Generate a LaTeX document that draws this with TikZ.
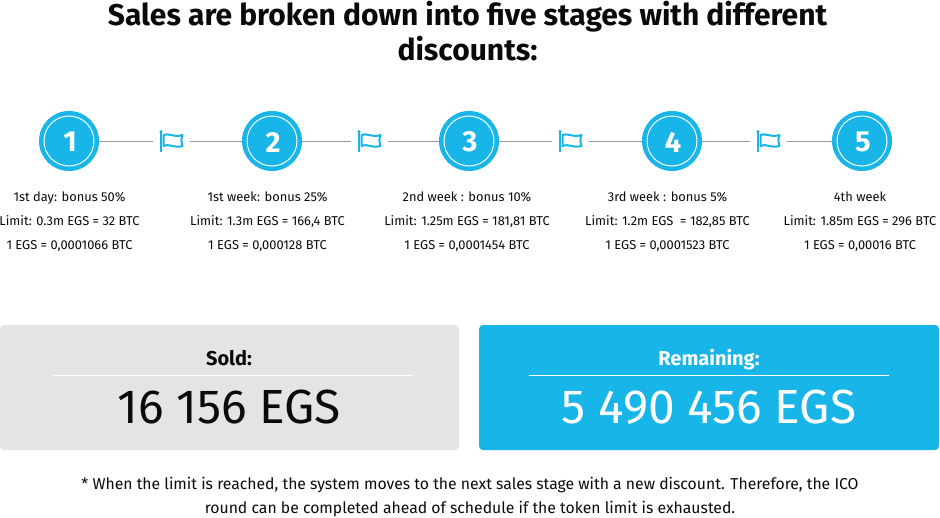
\documentclass[tikz,border=0pt]{standalone}
\usepackage{fontspec}
\setmainfont{Fira Sans}
\definecolor{brand}{HTML}{17B5E8}
\definecolor{panel}{HTML}{E4E4E4}
\definecolor{wire}{HTML}{999999}
\definecolor{ink}{HTML}{0A0A0A}
\newcommand{\fs}[1]{\fontsize{#1}{#1}\selectfont}
\tikzset{
 x=1pt,y=-1pt,
 stagecircle/.style={circle,fill=brand,minimum size=60pt,inner sep=0pt},
 ringline/.style={draw=white,line width=1pt},
 wireline/.style={draw=wire,line width=0.9pt},
 flagslot/.style={minimum width=36pt,minimum height=24pt,inner sep=0pt},
 info/.style={text=ink,font=\fs{12.85},inner sep=0pt,anchor=base},
 panelbox/.style={rounded corners=4pt,inner sep=0pt,minimum height=125pt,minimum width=#1},
 rule/.style={draw=white,line width=0.6pt},
 flagicon/.pic={
  \fill[brand] (-10.5,-9.5) circle (1.7);
  \draw[brand,line width=2.2pt] (-10.5,-9) -- (-10.5,11);
  \draw[brand,line width=2pt,line join=round] (-8,-6) .. controls (-3,-8.5) and (2,-3) .. (11,-6) .. controls (9.5,-1.5) and (9.5,1.5) .. (11,5) .. controls (2,7.5) and (-3,2) .. (-8,5) -- cycle;
 },
}
\begin{document}
\begin{tikzpicture}
\useasboundingbox (0,0) rectangle (940,517);
\node[font=\fs{30}\bfseries,text=ink,inner sep=0pt,anchor=base] (t1) at (467.5,25) {Sales are broken down into five stages with different};
\node[font=\fs{30}\bfseries,text=ink,inner sep=0pt,anchor=base] (t2) at (467.5,60) {discounts:};
% stages
\foreach \n/\x in {1/69,2/272,3/469,4/672,5/862}{
  \node[stagecircle] (s\n) at (\x,141) {};
  \node[text=white,font=\fs{29}\bfseries,inner sep=0pt] (d\n) at (\x+1,142) {\n};
  \draw[ringline] (s\n.center) circle (25);
}
\foreach \n/\x in {1/171.5,2/369.5,3/570.5,4/768.5}{
  \node[flagslot] (f\n) at (\x,141) {};
  \pic at (\x,141) {flagicon};
}
\draw[wireline] (s1) -- (f1); \draw[wireline] (f1) -- (s2);
\draw[wireline] (s2) -- (f2); \draw[wireline] (f2) -- (s3);
\draw[wireline] (s3) -- (f3); \draw[wireline] (f3) -- (s4);
\draw[wireline] (s4) -- (f4); \draw[wireline] (f4) -- (s5);
% info
\node[info] (a1) at (69.5,201) {1st day: bonus 50\%};
\node[info] (a2) at (69.5,225) {Limit: 0.3m EGS = 32 BTC};
\node[info] (a3) at (69.5,249) {1 EGS = 0,0001066 BTC};
\node[info] (b1) at (267.5,201) {1st week: bonus 25\%};
\node[info] (b2) at (267.5,225) {Limit: 1.3m EGS = 166,4 BTC};
\node[info] (b3) at (267.5,249) {1 EGS = 0,000128 BTC};
\node[info] (c1) at (467,201) {2nd week : bonus 10\%};
\node[info] (c2) at (467,225) {Limit: 1.25m EGS = 181,81 BTC};
\node[info] (c3) at (467,249) {1 EGS = 0,0001454 BTC};
\node[info] (d1) at (667.5,201) {3rd week : bonus 5\%};
\node[info] (d2) at (667.5,225) {Limit: 1.2m EGS \ = 182,85 BTC};
\node[info] (d3) at (667.5,249) {1 EGS = 0,0001523 BTC};
\node[info] (e1) at (860,201) {4th week};
\node[info] (e2) at (860,225) {Limit: 1.85m EGS = 296 BTC};
\node[info] (e3) at (860,249) {1 EGS = 0,00016 BTC};
% panels
\node[panelbox=459pt,fill=panel] (p1) at (229.5,387.5) {};
\node[panelbox=460pt,fill=brand] (p2) at (709,387.5) {};
\node[font=\fs{20}\bfseries,text=ink,inner sep=0pt,anchor=base] (sold) at (229,365) {Sold:};
\node[font=\fs{20}\bfseries,text=white,inner sep=0pt,anchor=base] (rem) at (709,365) {Remaining:};
\coordinate (r1a) at (53,375.5); \coordinate (r1b) at (413,375.5);
\coordinate (r2a) at (529,375.5); \coordinate (r2b) at (889,375.5);
\draw[rule] (r1a) -- (r1b);
\draw[rule] (r2a) -- (r2b);
\node[font=\fs{47.9},text=ink,inner sep=0pt,anchor=base] (v1) at (229,423) {16 156 EGS};
\node[font=\fs{47.9},text=white,inner sep=0pt,anchor=base] (v2) at (709,423) {5 490 456 EGS};
% note
\node[font=\fs{15.75},text=ink,inner sep=0pt,anchor=base] (n1) at (470,489) {* When the limit is reached, the system moves to the next sales stage with a new discount. Therefore, the ICO};
\node[font=\fs{15.75},text=ink,inner sep=0pt,anchor=base] (n2) at (470,513) {round can be completed ahead of schedule if the token limit is exhausted.};
\end{tikzpicture}
\end{document}
